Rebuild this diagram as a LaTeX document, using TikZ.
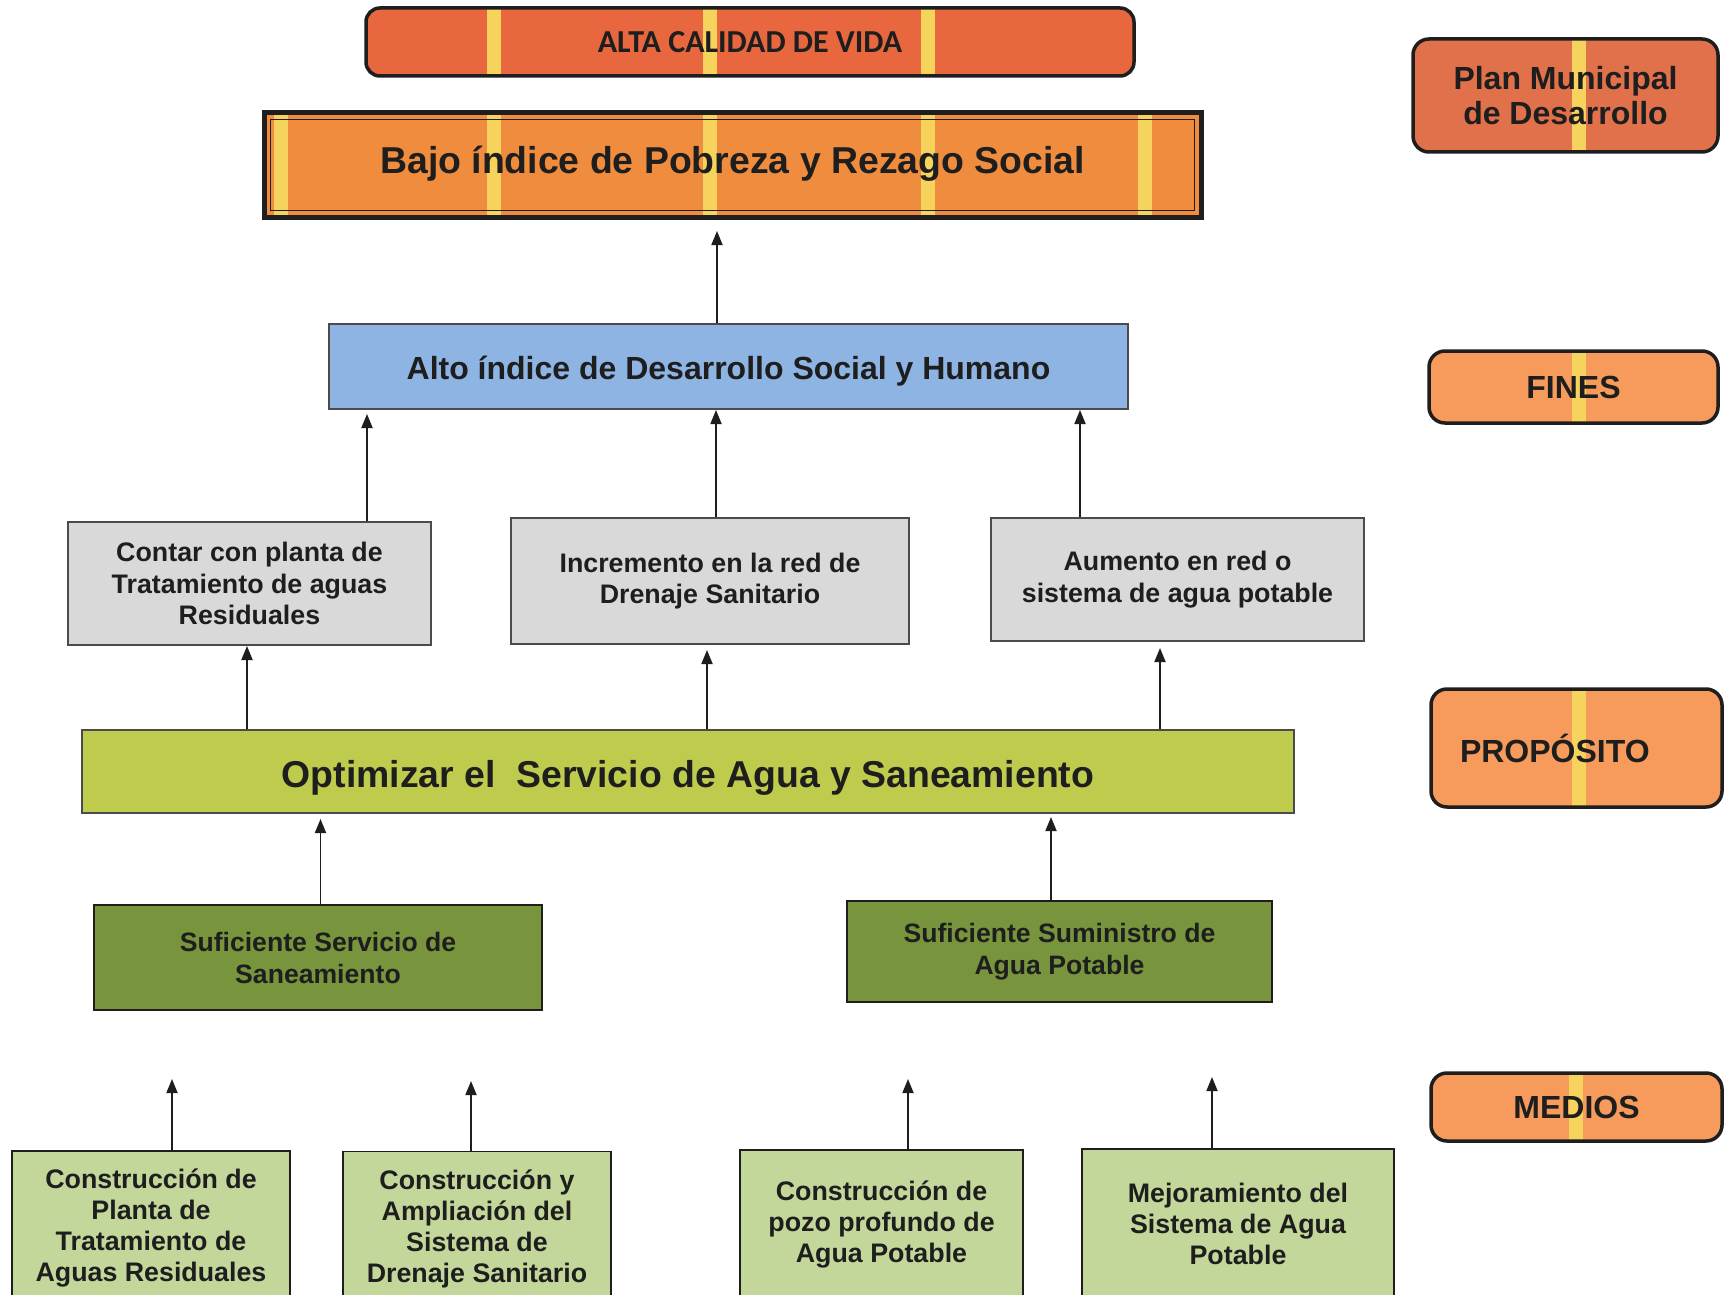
\documentclass[tikz,border=0pt]{standalone}
\usepackage{fontspec}
\setmainfont{Liberation Sans}
\newfontfamily\calib{Carlito}
\usetikzlibrary{arrows.meta}
\definecolor{txt}{HTML}{1E1E1E}
\definecolor{altac}{HTML}{E9673F}
\definecolor{bajoc}{HTML}{F08C3E}
\definecolor{planc}{HTML}{E0714A}
\definecolor{sidec}{HTML}{F69B5C}
\definecolor{stripec}{HTML}{F6D35C}
\definecolor{bluec}{HTML}{8EB4E3}
\definecolor{grayc}{HTML}{D9D9D9}
\definecolor{optc}{HTML}{BFCB4C}
\definecolor{dgreen}{HTML}{78943D}
\definecolor{lgreen}{HTML}{C4D79B}
\begin{document}
\begin{tikzpicture}[x=1pt,y=-1pt,
  stripes/.style={path picture={\foreach \sx in {#1}{\fill[stripec, sharp corners] ([xshift={(\sx-7)*1pt}]path picture bounding box.south west) rectangle ([xshift={(\sx+7)*1pt}]path picture bounding box.north west);}}},
  base/.style={inner sep=0pt, align=center, text=txt},
  orbox/.style={base, draw=txt, line width=3.5pt, rounded corners=16pt},
  sqbox/.style={base, draw=txt!80, line width=1.6pt},
  arr/.style={draw=txt, line width=1.8pt, -{Triangle[width=11pt,length=14pt]}},
  lg/.style={font=\bfseries\fontsize{37.4}{42}\selectfont},
  md/.style={font=\bfseries\fontsize{32}{36}\selectfont},
  gr/.style={font=\bfseries\fontsize{26.8}{31.4}\selectfont},
  nr/.style={font=\bfseries\fontsize{26.8}{31}\selectfont},
  nr2/.style={font=\bfseries\fontsize{26.6}{32}\selectfont},
  sd/.style={font=\bfseries\fontsize{32}{35}\selectfont}
]
\useasboundingbox (0,0) rectangle (1727,1295);
\clip (0,0) rectangle (1727,1295);
\fill[white] (0,0) rectangle (1727,1295);

% top boxes
\node[orbox, fill=altac, minimum width=768pt, minimum height=68pt, rounded corners=14pt,
  stripes={128,344,562}, font=\calib\bfseries\fontsize{32}{34}\selectfont] (alta) at (750,42) {ALTA CALIDAD DE VIDA};
\node[base, fill=bajoc, draw=txt, line width=5pt, minimum width=937pt, minimum height=104pt,
  stripes={17,230,446,664,881}, lg] (bajo) at (732.5,165) {\raisebox{1.5pt}[\height][\depth]{Bajo índice de Pobreza y Rezago Social}};
\draw[txt, line width=1.4pt] ([shift={(9,9)}]bajo.north west) rectangle ([shift={(-9,-9)}]bajo.south east);

\node[sqbox, fill=bluec, minimum width=799pt, minimum height=85pt, md] (alto) at (728.5,366.5) {\raisebox{-4.4pt}[\height][\depth]{Alto índice de Desarrollo Social y Humano}};

% gray
\node[sqbox, fill=grayc, minimum width=363pt, minimum height=123pt, gr] (contar) at (249.5,583.5) {Contar con planta de\\Tratamiento de aguas\\Residuales};
\node[sqbox, fill=grayc, minimum width=398pt, minimum height=126pt, gr] (incr) at (710,581) {Incremento en la red de\\Drenaje Sanitario};
\node[sqbox, fill=grayc, minimum width=373pt, minimum height=123pt, gr] (aum) at (1177.5,579.5) {Aumento en red o\\sistema de agua potable};

\node[sqbox, fill=optc, minimum width=1212pt, minimum height=83pt, lg] (optim) at (688,771.5) {\raisebox{-6.6pt}[\height][\depth]{Optimizar el \ Servicio de Agua y Saneamiento}};

\node[sqbox, fill=dgreen, draw=txt, minimum width=448pt, minimum height=105pt, nr2] (ssan) at (318,957.5) {Suficiente Servicio de\\Saneamiento};
\node[sqbox, fill=dgreen, draw=txt, minimum width=425pt, minimum height=101pt, nr2] (ssum) at (1059.5,951.5) {Suficiente Suministro de\\Agua Potable};

% bottom
\node[sqbox, fill=lgreen, draw=txt, minimum width=278pt, minimum height=154pt, nr] (b1) at (151,1228) {Construcción de\\Planta de\\Tratamiento de\\Aguas Residuales};
\node[sqbox, fill=lgreen, draw=txt, minimum width=268pt, minimum height=154pt, nr] (b2) at (477,1228.5) {Construcción y\\Ampliación del\\Sistema de\\Drenaje Sanitario};
\node[sqbox, fill=lgreen, draw=txt, minimum width=283pt, minimum height=148pt, nr] (b3) at (881.5,1224) {Construcción de\\pozo profundo de\\Agua Potable};
\node[sqbox, fill=lgreen, draw=txt, minimum width=312pt, minimum height=149pt, nr] (b4) at (1238,1223.5) {Mejoramiento del\\Sistema de Agua\\Potable};

% side labels
\node[orbox, fill=planc, minimum width=305pt, minimum height=113pt, stripes={166}, sd] (plan) at (1565.5,95.5) {Plan Municipal\\de Desarrollo};
\node[orbox, fill=sidec, minimum width=289pt, minimum height=72pt, stripes={150}, sd] (fines) at (1573.5,387) {FINES};
\node[orbox, fill=sidec, minimum width=291pt, minimum height=118pt, stripes={148}, sd, text width=233pt, align=left, inner xsep=29pt] (prop) at (1576.5,748) {PROPÓSITO};
\node[orbox, fill=sidec, minimum width=291pt, minimum height=68pt, stripes={145}, sd] (medios) at (1576.5,1107) {MEDIOS};

% arrows
\coordinate (t0) at (717,231);
\draw[arr] (alto.north -| t0) -- (t0);
\coordinate (t1) at (367,414);
\coordinate (t2) at (716,410);
\coordinate (t3) at (1080,410);
\draw[arr] (contar.north -| t1) -- (t1);
\draw[arr] (incr.north -| t2) -- (t2);
\draw[arr] (aum.north -| t3) -- (t3);
\coordinate (u1) at (247,646);
\coordinate (u2) at (707,650);
\coordinate (u3) at (1160,648);
\draw[arr] (optim.north -| u1) -- (u1);
\draw[arr] (optim.north -| u2) -- (u2);
\draw[arr] (optim.north -| u3) -- (u3);
\coordinate (v1) at (320.5,819);
\coordinate (v2) at (1051,817);
\draw[arr] (ssan.north -| v1) -- (v1);
\draw[arr] (ssum.north -| v2) -- (v2);
\coordinate (m1) at (172,1079);
\coordinate (m2) at (471,1081);
\coordinate (m3) at (908,1079);
\coordinate (m4) at (1212,1077);
\draw[arr] (b1.north -| m1) -- (m1);
\draw[arr] (b2.north -| m2) -- (m2);
\draw[arr] (b3.north -| m3) -- (m3);
\draw[arr] (b4.north -| m4) -- (m4);
\end{tikzpicture}
\end{document}
